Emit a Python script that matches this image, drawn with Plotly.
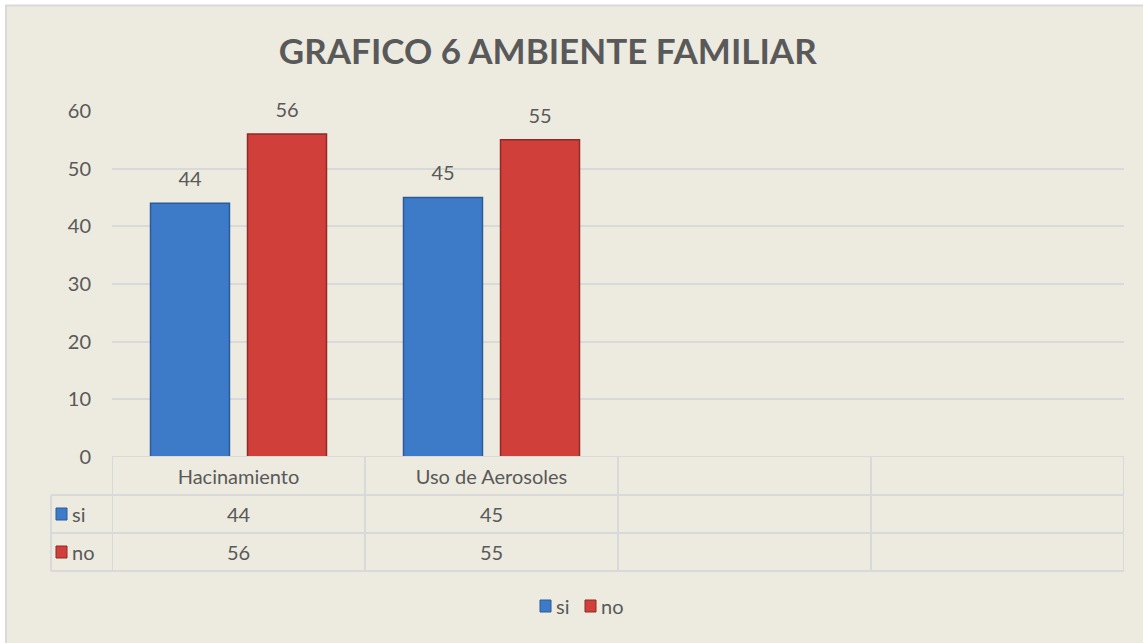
import plotly.graph_objects as go

# data
categories = ["Hacinamiento", "Uso de Aerosoles", "", ""]
series_names = ["si", "no"]
si_values = [44, 45]
no_values = [56, 55]
y_ticks = [0, 10, 20, 30, 40, 50, 60]

W, H = 1143, 643
ML, MR, MT, MB = 112, 19, 111, 186
PW = W - ML - MR
PH = H - MT - MB

BG = "#EDEBE0"
GRID = "#D9D9D9"
TXT = "#595959"
BLUE = "#3D7BC8"
BLUE_EDGE = "#2A5A98"
RED = "#D13F3A"
RED_EDGE = "#8E2A27"
FONT = "Lato"


def px_x(p):
    return (p - ML) / PW


def px_y(q):
    return (H - MB - q) / PH


x_idx = list(range(len(si_values)))
series = [("si", si_values, BLUE, BLUE_EDGE), ("no", no_values, RED, RED_EDGE)]

fig = go.Figure()
for name, vals, col, edge in series:
    fig.add_trace(go.Bar(
        x=x_idx, y=vals, name=name, offsetgroup=name,
        marker=dict(color=col, line=dict(color=edge, width=1.5)),
        hoverinfo="skip", showlegend=False,
    ))
for name, vals, col, edge in series:
    # value labels above the bars
    fig.add_trace(go.Scatter(
        x=x_idx, y=vals, mode="markers+text", text=[str(v) for v in vals],
        textposition="top center", offsetgroup=name, cliponaxis=False,
        textfont=dict(family=FONT, size=20, color=TXT),
        marker=dict(size=18, opacity=0), showlegend=False, hoverinfo="skip",
    ))

shapes = []
# chart background with border
shapes.append(dict(type="rect", xref="paper", yref="paper",
                   x0=px_x(6), x1=px_x(1170), y0=px_y(680), y1=px_y(5.5),
                   fillcolor=BG, line=dict(color=GRID, width=2), layer="below"))
# data table grid
line = dict(color=GRID, width=2)
shapes.append(dict(type="line", xref="paper", yref="y", x0=0, x1=1, y0=0, y1=0, line=line))
for q in [495, 533, 571]:
    shapes.append(dict(type="line", xref="paper", yref="paper",
                       x0=px_x(51), x1=1, y0=px_y(q), y1=px_y(q), line=line))
for i in range(len(categories) + 1):
    shapes.append(dict(type="line", xref="x", yref="paper",
                       x0=i - 0.5, x1=i - 0.5, y0=0, y1=px_y(571), line=line))
shapes.append(dict(type="line", xref="paper", yref="paper",
                   x0=px_x(51), x1=px_x(51), y0=px_y(495), y1=px_y(571), line=line))

annotations = []
row_centers = {"si": 514, "no": 552}
for name, vals, col, edge in series:
    yc = row_centers[name]
    shapes.append(dict(type="rect", xref="paper", yref="paper",
                       x0=px_x(56), x1=px_x(67), y0=px_y(yc + 6), y1=px_y(yc - 6),
                       fillcolor=col, line=dict(color=edge, width=1)))
    annotations.append(dict(xref="paper", yref="paper", x=px_x(70), y=px_y(yc),
                            xanchor="left", yanchor="middle", showarrow=False,
                            text=name, font=dict(family=FONT, size=20, color=TXT)))
    for i, v in enumerate(vals):
        annotations.append(dict(xref="x", yref="paper", x=i, y=px_y(yc),
                                xanchor="center", yanchor="middle", showarrow=False,
                                text=str(v), font=dict(family=FONT, size=20, color=TXT)))

# legend at the bottom
legend_x = {"si": 540, "no": 585}
for name, vals, col, edge in series:
    lx = legend_x[name]
    shapes.append(dict(type="rect", xref="paper", yref="paper",
                       x0=px_x(lx), x1=px_x(lx + 11), y0=px_y(612), y1=px_y(600),
                       fillcolor=col, line=dict(color=edge, width=1)))
    annotations.append(dict(xref="paper", yref="paper", x=px_x(lx + 14), y=px_y(606),
                            xanchor="left", yanchor="middle", showarrow=False,
                            text=name, font=dict(family=FONT, size=20, color=TXT)))

fig.update_layout(
    width=W, height=H, autosize=False,
    margin=dict(l=ML, r=MR, t=MT, b=MB),
    paper_bgcolor="white", plot_bgcolor="rgba(0,0,0,0)",
    barmode="group", bargap=0.233, bargroupgap=0.186,
    scattermode="group", scattergap=0.233,
    title=dict(text="<b>GRAFICO 6 AMBIENTE FAMILIAR</b>", x=px_x(597), xanchor="center",
               y=1 - 52 / H, yanchor="middle", yref="container",
               font=dict(family=FONT, size=35, color=TXT)),
    xaxis=dict(range=[-0.5, len(categories) - 0.5], tickvals=list(range(len(categories))),
               ticktext=categories, showgrid=False, zeroline=False, showline=False,
               ticks="", ticklabelstandoff=6, tickfont=dict(family=FONT, size=20, color=TXT)),
    yaxis=dict(range=[0, 60], tickvals=y_ticks, showgrid=True, gridcolor=GRID, gridwidth=1.5,
               zeroline=False, showline=False, ticks="", ticklabelstandoff=20,
               tickfont=dict(family=FONT, size=20, color=TXT)),
    shapes=shapes, annotations=annotations,
    showlegend=False,
)

fig.write_html("out.html", config={"displayModeBar": False},
               post_script="document.body.style.margin='0';")
